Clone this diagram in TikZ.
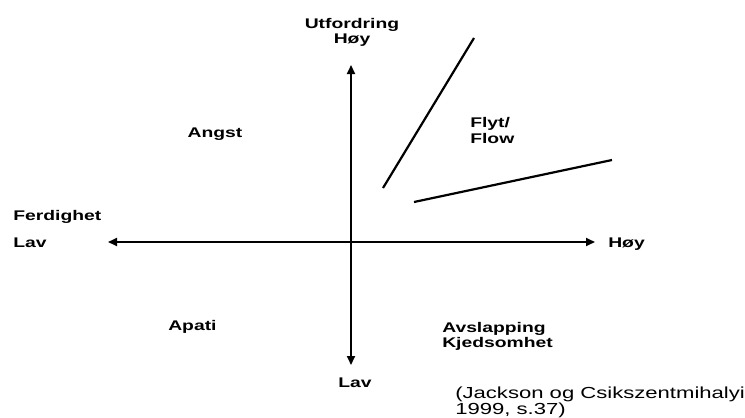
\documentclass[tikz,border=0pt]{standalone}
\usepackage{fontspec}
\setmainfont{Liberation Sans}
\usetikzlibrary{arrows.meta}
\begin{document}
\begin{tikzpicture}[x=1pt,y=-1pt,
  lbl/.style={font=\fontsize{14}{16}\selectfont\bfseries, inner sep=0pt, xscale=1.38, transform shape},
  cite/.style={font=\fontsize{16}{17}\selectfont, inner sep=0pt, xscale=1.38, transform shape},
  axis/.style={line width=2pt, {Triangle[length=9pt,width=8pt]}-{Triangle[length=9pt,width=8pt]}},
  bar/.style={line width=2.2pt}]
\useasboundingbox (0,0) rectangle (745,418);
% axis ends
\coordinate (xl) at (108,242);
\coordinate (xr) at (595,242);
\coordinate (yt) at (351,65);
\coordinate (yb) at (351,365);
% flow channel lines
\coordinate (a1) at (383,188);
\coordinate (a2) at (474,38);
\coordinate (b1) at (414,202);
\coordinate (b2) at (612,160);
\draw[axis] (xl) -- (xr);
\draw[axis] (yt) -- (yb);
\draw[bar] (a1) -- (a2);
\draw[bar] (b1) -- (b2);
% label positions
\coordinate (pUt) at (352,28);
\coordinate (pHt) at (352,43);
\coordinate (pAn) at (215,137);
\coordinate (pFl1) at (470,127);
\coordinate (pFl2) at (470,143);
\coordinate (pFe) at (13,220);
\coordinate (pLl) at (13,247);
\coordinate (pHr) at (608,247);
\coordinate (pAp) at (168,330);
\coordinate (pAv) at (442,332);
\coordinate (pKj) at (442,347);
\coordinate (pLb) at (355,387);
\coordinate (pC1) at (455,398);
\coordinate (pC2) at (455,414);
\node[lbl, anchor=base] (ut) at (pUt) {Utfordring};
\node[lbl, anchor=base] (ht) at (pHt) {Høy};
\node[lbl, anchor=base] (an) at (pAn) {Angst};
\node[lbl, anchor=base west] (fl1) at (pFl1) {Flyt/};
\node[lbl, anchor=base west] (fl2) at (pFl2) {Flow};
\node[lbl, anchor=base west] (fe) at (pFe) {Ferdighet};
\node[lbl, anchor=base west] (ll) at (pLl) {Lav};
\node[lbl, anchor=base west] (hr) at (pHr) {Høy};
\node[lbl, anchor=base west] (ap) at (pAp) {Apati};
\node[lbl, anchor=base west] (av) at (pAv) {Avslapping};
\node[lbl, anchor=base west] (kj) at (pKj) {Kjedsomhet};
\node[lbl, anchor=base] (lb) at (pLb) {Lav};
\node[cite, anchor=base west] (c1) at (pC1) {(Jackson og Csikszentmihalyi};
\node[cite, anchor=base west] (c2) at (pC2) {1999, s.37)};
\end{tikzpicture}
\end{document}
